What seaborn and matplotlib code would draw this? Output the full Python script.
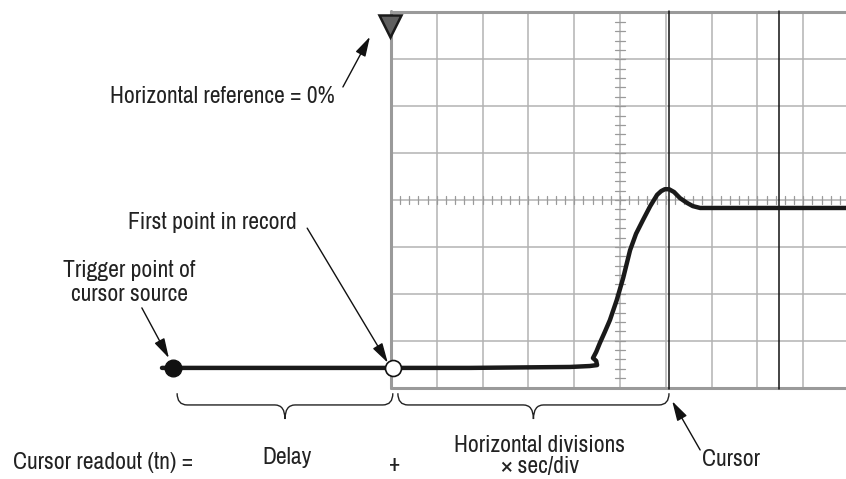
import numpy as np
import pandas as pd
import seaborn as sns
import matplotlib.pyplot as plt
from matplotlib.path import Path
from matplotlib.patches import PathPatch

sns.set_theme(style="white")
plt.rcParams['font.family'] = ['Archivo Narrow', 'Roboto Condensed', 'DejaVu Sans']

# graticule: 10 x 8 divisions, units are divisions
grid_x = list(range(0, 11))
grid_y = list(range(-4, 5))

# waveform (divisions, left of 0 = delay before record)
wave_t = [-5.00, -4.76, 0.04, 1.72, 3.91, 4.34, 4.50, 4.48, 4.41, 4.48, 4.56, 4.67, 4.78,
          4.93, 5.07, 5.22, 5.35, 5.50, 5.66, 5.81, 5.90, 5.98, 6.07, 6.18, 6.31, 6.46,
          6.59, 6.75, 6.90, 10.0]
wave_v = [-3.58, -3.58, -3.58, -3.58, -3.56, -3.54, -3.52, -3.43, -3.37, -3.24, -3.05, -2.81, -2.56,
          -2.13, -1.66, -1.07, -0.72, -0.43, -0.13, 0.11, 0.19, 0.23, 0.23, 0.17, 0.04, -0.06,
          -0.13, -0.17, -0.17, -0.17]

trigger_pt = (-4.76, -3.58)
first_pt = (0.04, -3.58)
cursors = [6.07, 8.47]
braces = [(-4.67, 0.04), (0.15, 6.07)]

df = pd.DataFrame({"t": wave_t, "v": wave_v})

fig = plt.figure(figsize=(8.46, 4.79), dpi=100)
ax = fig.add_axes([0, 0, 1, 1])
ax.set_xlim(-391 / 45.8, 455 / 45.8)
ax.set_ylim((200 - 479) / 46.9, 200 / 46.9)
ax.axis('off')

# grid
for gx in grid_x:
    ax.plot([gx, gx], [-4, 4], color='#b3b3b3', lw=1.1, zorder=1)
for gy in grid_y:
    ax.plot([0, 10], [gy, gy], color='#b3b3b3', lw=1.1, zorder=1)
ax.plot([0, 0], [-4, 4.02], color='#9a9a9a', lw=2.2, zorder=2)
ax.plot([0, 10], [4, 4], color='#9a9a9a', lw=2.2, zorder=2)
ax.plot([0, 10], [-4, -4], color='#9a9a9a', lw=2.2, zorder=2)

# minor ticks on centre lines
for m in np.arange(0, 10.01, 0.2):
    ax.plot([m, m], [-0.085, 0.085], color='#9a9a9a', lw=0.9, zorder=2)
for m in np.arange(-4, 4.01, 0.2):
    ax.plot([4.89, 5.11], [m, m], color='#9a9a9a', lw=0.9, zorder=2)

# cursors
for c in cursors:
    ax.plot([c, c], [-4.02, 4.04], color='#111111', lw=1.1, zorder=3)

# waveform
sns.lineplot(data=df, x="t", y="v", sort=False, estimator=None, color='#1a1a1a',
             lw=3.2, ax=ax, zorder=4)
ax.plot(*trigger_pt, 'o', ms=12, color='#111111', zorder=5)
ax.plot(*first_pt, 'o', ms=11.5, mfc='white', mec='#111111', mew=1.2, zorder=5)

# horizontal reference marker
ax.plot(-0.03, 3.70, 'v', ms=16.5, mfc='#606060', mec='#1a1a1a', mew=1.8, zorder=5)


def brace(x0, x1, y_top=-4.12, y_mid=-4.37, y_tip=-4.67, rx=0.22):
    xm = (x0 + x1) / 2
    verts = [(x0, y_top), (x0, y_mid), (x0 + rx, y_mid),
             (xm - rx, y_mid), (xm, y_mid), (xm, y_tip),
             (xm, y_mid), (xm + rx, y_mid),
             (x1 - rx, y_mid), (x1, y_mid), (x1, y_top)]
    codes = [Path.MOVETO, Path.CURVE3, Path.CURVE3,
             Path.LINETO, Path.CURVE3, Path.CURVE3,
             Path.CURVE3, Path.CURVE3,
             Path.LINETO, Path.CURVE3, Path.CURVE3]
    ax.add_patch(PathPatch(Path(verts, codes), fill=False, lw=1.0, ec='#222222'))


for b0, b1 in braces:
    brace(b0, b1)

fs = 17
tc = '#222222'
arrow = dict(arrowstyle='-|>,head_length=1.0,head_width=0.28', color='#111111', lw=1.0,
             shrinkA=0, shrinkB=0)

ax.text(-1.22, 2.20, 'Horizontal reference = 0%', ha='right', va='center', fontsize=fs, color=tc)
ax.annotate('', xy=(-0.46, 3.48), xytext=(-1.05, 2.41), arrowprops=arrow)

ax.text(-2.05, -0.49, 'First point in record', ha='right', va='center', fontsize=fs, color=tc)
ax.annotate('', xy=(-0.07, -3.47), xytext=(-1.83, -0.60), arrowprops=arrow)

ax.text(-5.72, -1.76, 'Trigger point of\ncursor source', ha='center', va='center',
        fontsize=fs, color=tc, linespacing=1.2)
ax.annotate('', xy=(-4.85, -3.37), xytext=(-5.44, -2.30), arrowprops=arrow)

ax.text(-8.25, -5.59, 'Cursor readout (tn) =', ha='left', va='center', fontsize=fs, color=tc)
ax.text(-2.27, -5.50, 'Delay', ha='center', va='center', fontsize=fs, color=tc)
ax.text(0.09, -5.65, '+', ha='center', va='center', fontsize=fs, color=tc)
ax.text(3.25, -5.46, 'Horizontal divisions\n\u00d7 sec/div', ha='center', va='center',
        fontsize=fs, color=tc, linespacing=1.05)
ax.text(6.79, -5.54, 'Cursor', ha='left', va='center', fontsize=fs, color=tc)
ax.annotate('', xy=(6.14, -4.29), xytext=(6.75, -5.33), arrowprops=arrow)

fig.savefig('out.png', dpi=100)
